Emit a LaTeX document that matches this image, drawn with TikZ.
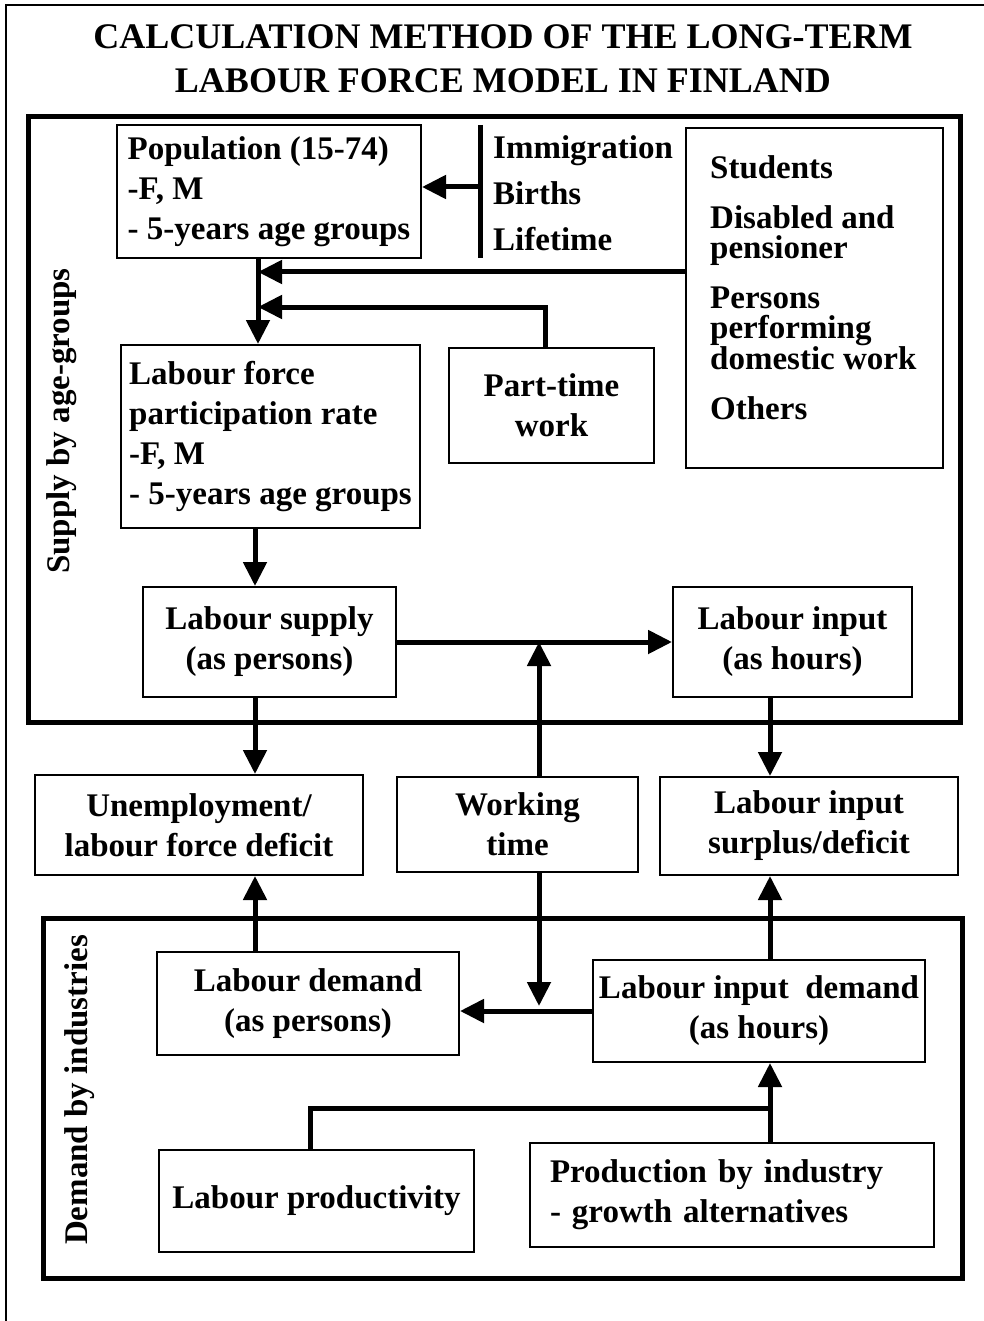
\documentclass[tikz,border=0pt]{standalone}
\usepackage{fontspec}
\setmainfont{Liberation Serif}
\usetikzlibrary{arrows.meta}
\tikzstyle{every node}=[font=\fontsize{33}{40}\selectfont\bfseries]
\tikzstyle{box}=[draw=black,line width=2pt,inner sep=0pt,align=center]
\tikzstyle{frame}=[draw=black,line width=5pt,inner sep=0pt]
\tikzstyle{flow}=[line width=5pt,-{Triangle[length=24pt,width=23pt]}]
\tikzstyle{link}=[line width=5pt]

\begin{document}
\begin{tikzpicture}[x=1pt,y=-1pt]
  \useasboundingbox (0,0) rectangle (984,1321);
  \draw[line width=2pt] (6,1321) |- (984,5);
  \node[align=center,font=\fontsize{36}{44}\selectfont\bfseries] (title) at (503,59)
    {CALCULATION METHOD OF THE LONG-TERM\\LABOUR FORCE MODEL IN FINLAND};

  \node[frame,minimum width=932,minimum height=605] (supply) at (494,419.5) {};
  \node[frame,minimum width=919,minimum height=360] (demand) at (502.5,1098) {};
  \node[rotate=90] (supplylbl) at (62,421) {Supply by age-groups};
  \node[rotate=90] (demandlbl) at (80,1090) {Demand by industries};

  \coordinate (colA) at (255,0);
  \coordinate (colW) at (539,0);
  \coordinate (colR) at (770,0);

  \node[box,align=left,minimum width=304,minimum height=133] (pop) at (269,191.5)
    {Population (15-74)\\-F, M\\- 5-years age groups};
  \coordinate (bartop) at (480,125);
  \coordinate (barbot) at (480,258);
  \coordinate (barmid) at (480,187);
  \draw[link] (bartop) -- (barbot);
  \node[anchor=west,align=left,inner sep=0pt,font=\fontsize{33}{46}\selectfont\bfseries] (moves) at (493,193.5)
    {Immigration\\Births\\Lifetime};
  \draw[flow] (barmid) -- (pop.east |- barmid);

  \node[box,minimum width=257,minimum height=340] (leave) at (814.5,298) {};
  \node[anchor=north west,align=left,inner sep=0pt,font=\fontsize{33}{30}\selectfont\bfseries] (leavetxt) at (710,155)
    {Students\\[20pt]Disabled and\\pensioner\\[20pt]Persons\\performing\\domestic work\\[20pt]Others};

  \node[box,align=left,minimum width=299,minimum height=183] (lfp) at (270.5,436.5)
    {Labour force\\participation rate\\-F, M\\- 5-years age groups};
  \node[box,minimum width=205,minimum height=115] (part) at (551.5,405.5) {Part-time\\work};

  \coordinate (jn1) at (258,272);
  \coordinate (jn2) at (258,307);
  \coordinate (ptup) at (545,0);
  \draw[link] (pop.south -| jn1) -- (jn2);
  \draw[flow] (jn2) -- (lfp.north -| jn1);
  \draw[flow] (leave.west |- jn1) -- (jn1);
  \draw[flow] (part.north -| ptup) |- (jn2);

  \node[box,minimum width=253,minimum height=110] (sup) at (269.5,642) {Labour supply\\(as persons)};
  \node[box,minimum width=239,minimum height=110] (inp) at (792.5,642) {Labour input\\(as hours)};
  \draw[flow] (lfp.south -| colA) -- (sup.north -| colA);
  \draw[flow] (sup.east) -- (inp.west |- sup.east);

  \node[box,minimum width=328,minimum height=100] (unemp) at (199,825) {Unemployment/\\labour force deficit};
  \node[box,minimum width=241,minimum height=95] (work) at (517.5,824.5) {Working\\time};
  \node[box,minimum width=298,minimum height=98] (surp) at (809,826) {Labour input\\surplus/deficit};
  \draw[flow] (work.north -| colW) -- (colW |- sup.east);
  \draw[flow] (sup.south -| colA) -- (unemp.north -| colA);
  \draw[flow] (inp.south -| colR) -- (surp.north -| colR);

  \node[box,minimum width=302,minimum height=103] (ld) at (308,1003.5) {Labour demand\\(as persons)};
  \node[box,minimum width=332,minimum height=102] (idem) at (759,1011) {Labour input\ \ demand\\(as hours)};
  \draw[flow] (ld.north -| colA) -- (unemp.south -| colA);
  \draw[flow] (idem.north -| colR) -- (surp.south -| colR);
  \draw[flow] (idem.west) -- (idem.west -| ld.east);
  \draw[flow] (work.south -| colW) -- ([yshift=5pt]colW |- idem.west);

  \node[box,minimum width=315,minimum height=102] (lp) at (316.5,1201) {Labour productivity};
  \node[box,align=left,text width=364,inner xsep=20pt,minimum height=104] (prod) at (732,1195)
    {Production by industry\\- growth alternatives};
  \coordinate (lpup) at (310,1108);
  \draw[link] (lp.north -| lpup) |- (colR |- lpup);
  \draw[flow] (prod.north -| colR) -- (idem.south -| colR);
\end{tikzpicture}
\end{document}
